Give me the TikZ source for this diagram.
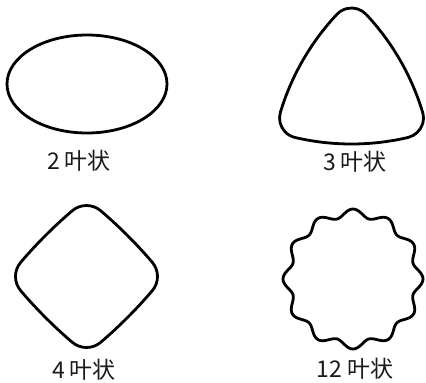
\documentclass[tikz,border=0pt]{standalone}
\usepackage{fontspec}
\newfontfamily\cjk{Noto Sans CJK SC}
\usepackage{tikz}
\usetikzlibrary{positioning,calc}
\definecolor{cLine}{HTML}{000000}
\definecolor{cText}{HTML}{1A1A1A}
\tikzset{
  lobe/.style ={draw=cLine,line width=2.8pt,line join=round},
  lbl/.style  ={font=\cjk\fontsize{23}{27}\selectfont,text=cText,inner sep=0pt},
}

\begin{document}
\begin{tikzpicture}[x=1pt, y=-1pt]
\useasboundingbox (0,0) rectangle (426,383);

% wavy outline: r(t) = R (1 + a cos(n (t - t0)))
\newcommand{\lobed}[6]{%
  \draw[lobe] plot[variable=\t,domain=0:360,samples=361]
    ({#1+#3*(1+#4*cos(#5*(\t-#6)))*cos(\t)},
     {#2-#3*(1+#4*cos(#5*(\t-#6)))*sin(\t)}) -- cycle;}

% convex outline: n flat side arcs joined by round corners of radius #6
% args: cx, cy, n, r at corner, r at mid side, corner radius, first corner angle
\newcommand{\roundpoly}[7]{%
  \pgfmathsetmacro\rpA{180/#3}
  \pgfmathsetmacro\rpE{#4-#6}
  \pgfmathsetmacro\rpK{\rpE*cos(\rpA)-#5}
  \pgfmathsetmacro\rpR{(#6*#6-\rpK*\rpK-(\rpE*sin(\rpA))^2)/(2*(\rpK+#6))}
  \pgfmathsetmacro\rpD{\rpR-#5}
  \pgfmathsetmacro\rpB{atan(\rpE*sin(\rpA)/(\rpE*cos(\rpA)+\rpD))}
  \pgfmathsetmacro\rpM{#7+\rpA}
  \pgfmathsetmacro\rpX{-\rpD*cos(\rpM)+\rpR*cos(\rpM-\rpB)}
  \pgfmathsetmacro\rpY{-\rpD*sin(\rpM)+\rpR*sin(\rpM-\rpB)}
  \begin{scope}[shift={(#1,#2)},yscale=-1]
    \draw[lobe] (\rpX,\rpY)
      \foreach \k in {1,...,#3}{
        arc[start angle=\rpM+(\k-1)*2*\rpA-\rpB, delta angle=2*\rpB, radius=\rpR]
        arc[start angle=\rpM+(\k-1)*2*\rpA+\rpB, delta angle=2*\rpA-2*\rpB, radius=#6]}
      -- cycle;
  \end{scope}}

% ===== 2 lobes ===========================================================
\draw[lobe] (87,84) ellipse [x radius=80, y radius=49];
\node[lbl] (lbltwo) at (79,161) {2 叶状};

% ===== 3 lobes ===========================================================
\roundpoly{351.5}{88}{3}{80}{56}{20}{90}
\node[lbl] (lblthree) at (355,162) {3 叶状};

% ===== 4 lobes ===========================================================
\roundpoly{86.5}{276.5}{4}{71}{58}{22}{0}
\node[lbl] (lblfour) at (84,370) {4 叶状};

% ===== 12 lobes ==========================================================
\lobed{353}{279}{66}{0.06}{12}{0}
\node[lbl] (lbltwelve) at (355,369) {12 叶状};
\end{tikzpicture}
\end{document}
